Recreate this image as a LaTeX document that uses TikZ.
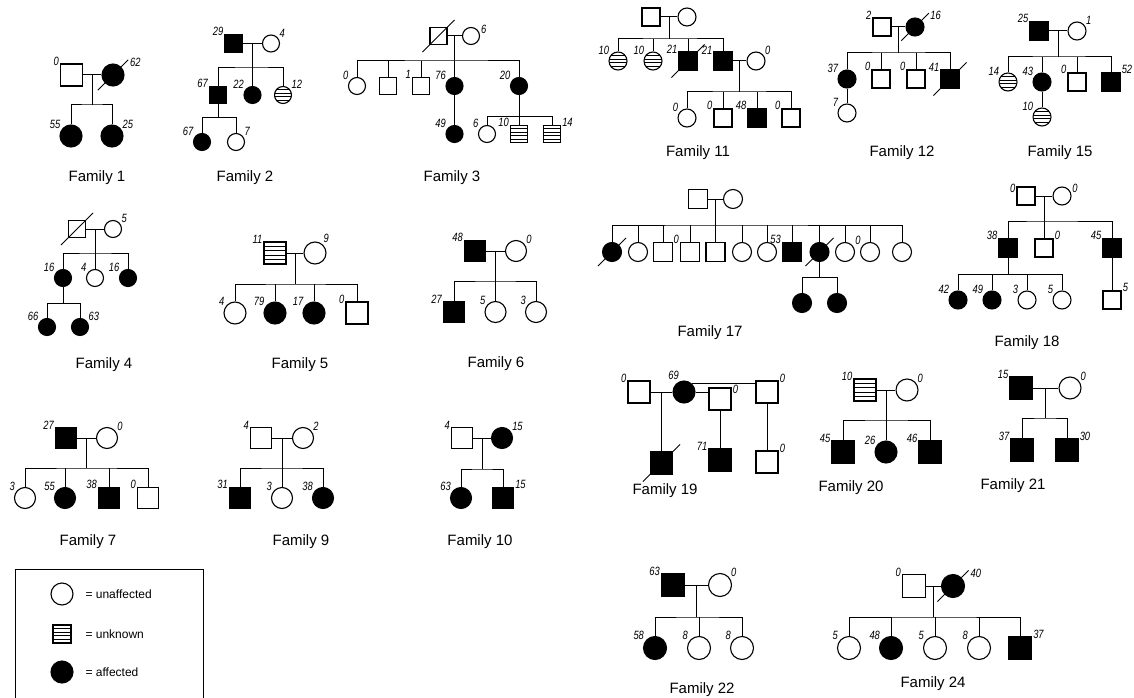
\documentclass[tikz,border=0pt]{standalone}
\usepackage{fontspec}
\setmainfont{Liberation Sans}
\newfontfamily\agefam[FakeStretch=0.78]{Liberation Sans}
\usetikzlibrary{calc}
\newcommand{\deceased}[1]{\draw[ln] ($(#1.south west)+(-7,7)$) -- ($(#1.north east)+(7,-7)$);}
\tikzset{
  ind/.style={draw, line width=1.1pt, inner sep=0pt, minimum size=20pt},
  m/.style={ind, rectangle},
  f/.style={ind, circle},
  aff/.style={fill=black},
  unk/.style={path picture={
    \foreach \k in {0.2,0.4,0.6,0.8}
      \draw[line width=0.9pt] ($(path picture bounding box.south west)!\k!(path picture bounding box.north west)$)
        -- ($(path picture bounding box.south east)!\k!(path picture bounding box.north east)$);
  }},
  age/.style={font=\agefam\itshape\fontsize{12}{12}\selectfont, inner sep=1pt},
  al/.style={label={[age]145:#1}},
  ar/.style={label={[age]35:#1}},
  ad/.style={label={[age, label distance=6pt]25:#1}},
  fam/.style={font=\fontsize{15}{16}\selectfont},
  ln/.style={line width=1pt},
}
\begin{document}
\begin{tikzpicture}[x=1pt, y=-1pt]
\useasboundingbox (0,0) rectangle (1134,698);

% Family 1
\begin{scope}[ind/.append style={minimum size=22pt}]
  \node[m, al=0] (f1a) at (71.5,75) {};
  \node[f, aff, ad=62] (f1b) at (113,75) {};
  \node[f, aff, al=55] (f1c) at (71,136) {};
  \node[f, aff, ar=25] (f1d) at (112,136) {};
\end{scope}
\deceased{f1b}
\draw[ln] (f1a) -- coordinate (f1u) (f1b);
\draw[ln] (f1u) -- ++(0,30) coordinate (f1s);
\draw[ln] (f1c.north) |- (f1s) -| (f1d.north);
\node[fam] (t1) at (97,178) {Family 1};

% Family 2
\begin{scope}[ind/.append style={minimum size=17pt}]
  \node[m, aff, al=29] (f2a) at (233.5,43.5) {};
  \node[f, ar=4] (f2b) at (271,43.5) {};
  \node[m, aff, al=67] (f2c) at (218,95) {};
  \node[f, aff, al=22] (f2d) at (252.5,95) {};
  \node[f, unk, ar=12] (f2e) at (283,95) {};
  \node[f, aff, al=67] (f2f) at (202,142) {};
  \node[f, ar=7] (f2g) at (236,142) {};
\end{scope}
\draw[ln] (f2a) -- coordinate (f2u) (f2b);
\draw[ln] (f2u) -- ++(0,24.5) coordinate (f2s);
\draw[ln] (f2c.north) |- (f2s) -| (f2e.north);
\draw[ln] (f2d.north) -- (f2d.north |- f2s);
\draw[ln] (f2c.south) -- ++(0,13.5) coordinate (f2t);
\draw[ln] (f2f.north) |- (f2t) -| (f2g.north);
\node[fam] (t2) at (245,178) {Family 2};

% Family 3
\begin{scope}[ind/.append style={minimum size=17pt}]
  \node[m] (f3a) at (438.5,36) {};
  \node[f, label={[age]5:6}] (f3b) at (471,36) {};
  \node[f, al=0] (f3c) at (357,86) {};
  \node[m] (f3d) at (388,86) {};
  \node[m, al=1] (f3e) at (421,86) {};
  \node[f, aff, al=76] (f3f) at (454.5,86) {};
  \node[f, aff, al=20] (f3g) at (519,86) {};
  \node[f, aff, al=49] (f3h) at (454.5,134) {};
  \node[f, al=6] (f3i) at (487,134) {};
  \node[m, unk, al=10] (f3j) at (519,134) {};
  \node[m, unk, ar=14] (f3k) at (552,134) {};
\end{scope}
\deceased{f3a}
\draw[ln] (f3a) -- coordinate (f3u) (f3b);
\draw[ln] (f3u) -- ++(0,25) coordinate (f3s);
\draw[ln] (f3c.north) |- (f3s) -| (f3g.north);
\foreach \n in {f3d,f3e,f3f} \draw[ln] (\n.north) -- (\n.north |- f3s);
\draw[ln] (f3f) -- (f3h);
\draw[ln] (f3g.south) -- ++(0,21.5) coordinate (f3t);
\draw[ln] (f3i.north) |- (f3t) -| (f3k.north);
\draw[ln] (f3j.north) -- (f3j.north |- f3t);
\node[fam] (t3) at (452,178) {Family 3};

% Family 11
\begin{scope}[ind/.append style={minimum size=18pt}]
  \node[m] (f11a) at (651,17) {};
  \node[f] (f11b) at (687,17) {};
  \node[f, unk, al=10] (f11c) at (618,61) {};
  \node[f, unk, al=10] (f11d) at (653,61) {};
  \node[m, aff, al=21] (f11e) at (688,61) {};
  \node[m, aff, label={[age]150:21}] (f11f) at (723,61) {};
  \node[f, ar=0] (f11g) at (756,61) {};
  \node[f, al=0] (f11h) at (687,118) {};
  \node[m, al=0] (f11i) at (723,118) {};
  \node[m, aff, al=48] (f11j) at (757,118) {};
  \node[m, al=0] (f11k) at (791,118) {};
\end{scope}
\deceased{f11e}
\draw[ln] (f11a) -- coordinate (f11u) (f11b);
\draw[ln] (f11u) -- ++(0,22) coordinate (f11s);
\draw[ln] (f11c.north) |- (f11s) -| (f11f.north);
\foreach \n in {f11d,f11e} \draw[ln] (\n.north) -- (\n.north |- f11s);
\draw[ln] (f11f) -- coordinate (f11v) (f11g);
\draw[ln] (f11v) -- ++(0,31) coordinate (f11t);
\draw[ln] (f11h.north) |- (f11t) -| (f11k.north);
\foreach \n in {f11i,f11j} \draw[ln] (\n.north) -- (\n.north |- f11t);
\node[fam] (t11) at (698,153) {Family 11};

% Family 12
\begin{scope}[ind/.append style={minimum size=18pt}]
  \node[m, al=2] (f12a) at (882,27) {};
  \node[f, aff, ad=16] (f12b) at (915,27) {};
  \node[f, aff, al=37] (f12c) at (847,79) {};
  \node[m, al=0] (f12d) at (881,79) {};
  \node[m, al=0] (f12e) at (916,79) {};
  \node[m, aff, al=41] (f12f) at (950,79) {};
  \node[f, al=7] (f12g) at (847,113) {};
\end{scope}
\deceased{f12b}
\deceased{f12f}
\draw[ln] (f12a) -- coordinate (f12u) (f12b);
\draw[ln] (f12u) -- ++(0,26) coordinate (f12s);
\draw[ln] (f12c.north) |- (f12s) -| (f12f.north);
\foreach \n in {f12d,f12e} \draw[ln] (\n.north) -- (\n.north |- f12s);
\draw[ln] (f12c) -- (f12g);
\node[fam] (t12) at (902,153) {Family 12};

% Family 15
\begin{scope}[ind/.append style={minimum size=18pt}]
  \node[m, aff, al=25] (f15a) at (1039,31) {};
  \node[f, ar=1] (f15b) at (1077,31) {};
  \node[f, unk, al=14] (f15c) at (1008,82) {};
  \node[f, aff, al=43] (f15d) at (1042,82) {};
  \node[m, al=0] (f15e) at (1077,82) {};
  \node[m, aff, ar=52] (f15f) at (1111,82) {};
  \node[f, unk, al=10] (f15g) at (1042,117) {};
\end{scope}
\draw[ln] (f15a) -- coordinate (f15u) (f15b);
\draw[ln] (f15u) -- ++(0,26) coordinate (f15s);
\draw[ln] (f15c.north) |- (f15s) -| (f15f.north);
\foreach \n in {f15d,f15e} \draw[ln] (\n.north) -- (\n.north |- f15s);
\draw[ln] (f15d) -- (f15g);
\node[fam] (t15) at (1060,153) {Family 15};

% Family 4
\begin{scope}[ind/.append style={minimum size=17pt}]
  \node[m] (f4a) at (77,229) {};
  \node[f, ar=5] (f4b) at (113,229) {};
  \node[f, aff, al=16] (f4c) at (63,278) {};
  \node[f, al=4] (f4d) at (95,278) {};
  \node[f, aff, al=16] (f4e) at (128,278) {};
  \node[f, aff, al=66] (f4f) at (47,327) {};
  \node[f, aff, ar=63] (f4g) at (80,327) {};
\end{scope}
\deceased{f4a}
\draw[ln] (f4a) -- coordinate (f4u) (f4b);
\draw[ln] (f4u) -- ++(0,24) coordinate (f4s);
\draw[ln] (f4c.north) |- (f4s) -| (f4e.north);
\draw[ln] (f4d.north) -- (f4d.north |- f4s);
\draw[ln] (f4c.south) -- ++(0,16.5) coordinate (f4t);
\draw[ln] (f4f.north) |- (f4t) -| (f4g.north);
\node[fam] (t4) at (104,365) {Family 4};

% Family 5
\begin{scope}[ind/.append style={minimum size=22pt}]
  \node[m, unk, al=11] (f5a) at (275,253) {};
  \node[f, label={[age]50:9}] (f5b) at (315,253) {};
  \node[f, al=4] (f5c) at (235,313) {};
  \node[f, aff, al=79] (f5d) at (275,313) {};
  \node[f, aff, al=17] (f5e) at (314,313) {};
  \node[m, al=0] (f5f) at (357,313) {};
\end{scope}
\draw[ln] (f5a) -- coordinate (f5u) (f5b);
\draw[ln] (f5u) -- ++(0,31) coordinate (f5s);
\draw[ln] (f5c.north) |- (f5s) -| (f5f.north);
\foreach \n in {f5d,f5e} \draw[ln] (\n.north) -- (\n.north |- f5s);
\node[fam] (t5) at (300,365) {Family 5};

% Family 6
\begin{scope}[ind/.append style={minimum size=21pt}]
  \node[m, aff, al=48] (f6a) at (475,251) {};
  \node[f, ar=0] (f6b) at (516,251) {};
  \node[m, aff, al=27] (f6c) at (454,312) {};
  \node[f, al=5] (f6d) at (495.5,312) {};
  \node[f, al=3] (f6e) at (536,312) {};
\end{scope}
\draw[ln] (f6a) -- coordinate (f6u) (f6b);
\draw[ln] (f6u) -- ++(0,30) coordinate (f6s);
\draw[ln] (f6c.north) |- (f6s) -| (f6e.north);
\draw[ln] (f6d.north) -- (f6d.north |- f6s);
\node[fam] (t6) at (496,364) {Family 6};

% Family 17
\begin{scope}[ind/.append style={minimum size=19pt}]
  \node[m] (f17a) at (698,199) {};
  \node[f] (f17b) at (733,199) {};
  \node[f, aff] (f17c) at (612,252) {};
  \node[f] (f17d) at (638,252) {};
  \node[m] (f17e) at (663,252) {};
  \node[m, al=0] (f17f) at (690,252) {};
  \node[m] (f17g) at (715.5,252) {};
  \node[f] (f17h) at (742,252) {};
  \node[f] (f17i) at (767,252) {};
  \node[m, aff, al=53] (f17j) at (792,252) {};
  \node[f, aff] (f17k) at (819.5,252) {};
  \node[f] (f17l) at (845,252) {};
  \node[f, al=0] (f17m) at (870,252) {};
  \node[f] (f17n) at (902,252) {};
  \node[f, aff] (f17o) at (802,303) {};
  \node[f, aff] (f17p) at (837,303) {};
\end{scope}
\deceased{f17c}
\deceased{f17k}
\draw[ln] (f17a) -- coordinate (f17u) (f17b);
\draw[ln] (f17u) -- ++(0,26) coordinate (f17s);
\draw[ln] (f17c.north) |- (f17s) -| (f17n.north);
\foreach \n in {d,e,f,g,h,i,j,k,l,m} \draw[ln] (f17\n.north) -- (f17\n.north |- f17s);
\draw[ln] (f17k.south) -- ++(0,15.5) coordinate (f17t);
\draw[ln] (f17o.north) |- (f17t) -| (f17p.north);
\node[fam] (t17) at (710,333) {Family 17};

% Family 18
\begin{scope}[ind/.append style={minimum size=18pt}]
  \node[m, label={[age]165:0}] (f18a) at (1026,196) {};
  \node[f, label={[age]15:0}] (f18b) at (1062,196) {};
  \node[m, aff, al=38] (f18c) at (1008,248) {};
  \node[m, ar=0] (f18d) at (1044,248) {};
  \node[m, aff, al=45] (f18e) at (1112,248) {};
  \node[f, aff, al=42] (f18f) at (958,300) {};
  \node[f, aff, al=49] (f18g) at (992,300) {};
  \node[f, al=3] (f18h) at (1027,300) {};
  \node[f, al=5] (f18i) at (1062,300) {};
  \node[m, ar=5] (f18j) at (1112,300) {};
\end{scope}
\draw[ln] (f18a) -- coordinate (f18u) (f18b);
\draw[ln] (f18u) -- ++(0,25) coordinate (f18s);
\draw[ln] (f18c.north) |- (f18s) -| (f18e.north);
\draw[ln] (f18d.north) -- (f18d.north |- f18s);
\draw[ln] (f18c.south) -- ++(0,17) coordinate (f18t);
\draw[ln] (f18f.north) |- (f18t) -| (f18i.north);
\foreach \n in {f18g,f18h} \draw[ln] (\n.north) -- (\n.north |- f18t);
\draw[ln] (f18e) -- (f18j);
\node[fam] (t18) at (1027,343) {Family 18};

% Family 7
\begin{scope}[ind/.append style={minimum size=21pt}]
  \node[m, aff, al=27] (f7a) at (66,438) {};
  \node[f, ar=0] (f7b) at (107,438) {};
  \node[f, al=3] (f7c) at (25,498) {};
  \node[f, aff, al=55] (f7d) at (65,498) {};
  \node[m, aff, al=38] (f7e) at (109,498) {};
  \node[m, al=0] (f7f) at (148,498) {};
\end{scope}
\draw[ln] (f7a) -- coordinate (f7u) (f7b);
\draw[ln] (f7u) -- ++(0,30) coordinate (f7s);
\draw[ln] (f7c.north) |- (f7s) -| (f7f.north);
\foreach \n in {f7d,f7e} \draw[ln] (\n.north) -- (\n.north |- f7s);
\node[fam] (t7) at (88,542) {Family 7};

% Family 9
\begin{scope}[ind/.append style={minimum size=21pt}]
  \node[m, al=4] (f9a) at (261,438) {};
  \node[f, ar=2] (f9b) at (303,438) {};
  \node[m, aff, al=31] (f9c) at (240,498) {};
  \node[f, al=3] (f9d) at (282,498) {};
  \node[f, aff, al=38] (f9e) at (323,498) {};
\end{scope}
\draw[ln] (f9a) -- coordinate (f9u) (f9b);
\draw[ln] (f9u) -- ++(0,30) coordinate (f9s);
\draw[ln] (f9c.north) |- (f9s) -| (f9e.north);
\draw[ln] (f9d.north) -- (f9d.north |- f9s);
\node[fam] (t9) at (301,542) {Family 9};

% Family 10
\begin{scope}[ind/.append style={minimum size=21pt}]
  \node[m, al=4] (f10a) at (462,438) {};
  \node[f, aff, ar=15] (f10b) at (502,438) {};
  \node[f, aff, al=63] (f10c) at (461,498) {};
  \node[m, aff, ar=15] (f10d) at (503,498) {};
\end{scope}
\draw[ln] (f10a) -- coordinate (f10u) (f10b);
\draw[ln] (f10u) -- ++(0,31) coordinate (f10s);
\draw[ln] (f10c.north) |- (f10s) -| (f10d.north);
\node[fam] (t10) at (480,542) {Family 10};

% Family 19
\begin{scope}[ind/.append style={minimum size=22pt}]
  \node[m, al=0] (f19a) at (639,392) {};
  \node[f, aff, label={[age]110:69}] (f19b) at (684,392) {};
  \node[m, label={[age]20:0}] (f19c) at (720,399) {};
  \node[m, ar=0] (f19d) at (767,392) {};
  \node[m, aff] (f19e) at (661.5,463) {};
  \node[m, aff, al=71] (f19f) at (720,460) {};
  \node[m, ar=0] (f19g) at (767,462) {};
\end{scope}
\deceased{f19e}
\draw[ln] (f19a) -- coordinate (f19u) (f19b);
\draw[ln] (f19b.east) -- (f19b.east -| f19c.west);
\draw[ln] (f19b.45) -- (f19b.45 -| f19d.west);
\draw[ln] (f19u) -- (f19e);
\draw[ln] (f19c) -- (f19f);
\draw[ln] (f19d) -- (f19g);
\node[fam] (t19) at (665,491) {Family 19};

% Family 20
\begin{scope}[ind/.append style={minimum size=22pt}]
  \node[m, unk, al=10] (f20a) at (865,390) {};
  \node[f, ar=0] (f20b) at (907,390) {};
  \node[m, aff, al=45] (f20c) at (843,452) {};
  \node[f, aff, al=26] (f20d) at (886,452) {};
  \node[m, aff, al=46] (f20e) at (930,452) {};
\end{scope}
\draw[ln] (f20a) -- coordinate (f20u) (f20b);
\draw[ln] (f20u) -- ++(0,30) coordinate (f20s);
\draw[ln] (f20c.north) |- (f20s) -| (f20e.north);
\draw[ln] (f20d.north) -- (f20d.north |- f20s);
\node[fam] (t20) at (851,488) {Family 20};

% Family 21
\begin{scope}[ind/.append style={minimum size=22pt}]
  \node[m, aff, al=15] (f21a) at (1021,388) {};
  \node[f, ar=0] (f21b) at (1070,388) {};
  \node[m, aff, al=37] (f21c) at (1022,450) {};
  \node[m, aff, ar=30] (f21d) at (1067,450) {};
\end{scope}
\draw[ln] (f21a) -- coordinate (f21u) (f21b);
\draw[ln] (f21u) -- ++(0,30) coordinate (f21s);
\draw[ln] (f21c.north) |- (f21s) -| (f21d.north);
\node[fam] (t21) at (1013,486) {Family 21};

% Family 22
\begin{scope}[ind/.append style={minimum size=23pt}]
  \node[m, aff, al=63] (f22a) at (673,585) {};
  \node[f, ar=0] (f22b) at (720,585) {};
  \node[f, aff, al=58] (f22c) at (655,648) {};
  \node[f, al=8] (f22d) at (699,648) {};
  \node[f, al=8] (f22e) at (742,648) {};
\end{scope}
\draw[ln] (f22a) -- coordinate (f22u) (f22b);
\draw[ln] (f22u) -- ++(0,32) coordinate (f22s);
\draw[ln] (f22c.north) |- (f22s) -| (f22e.north);
\draw[ln] (f22d.north) -- (f22d.north |- f22s);
\node[fam] (t22) at (702,690) {Family 22};

% Family 24
\begin{scope}[ind/.append style={minimum size=23pt}]
  \node[m, al=0] (f24a) at (914,586) {};
  \node[f, aff, ad=40] (f24b) at (953,586) {};
  \node[f, al=5] (f24c) at (849,648) {};
  \node[f, aff, al=48] (f24d) at (891,648) {};
  \node[f, al=5] (f24e) at (935,648) {};
  \node[f, al=8] (f24f) at (979,648) {};
  \node[m, aff, ar=37] (f24g) at (1020,648) {};
\end{scope}
\deceased{f24b}
\draw[ln] (f24a) -- coordinate (f24u) (f24b);
\draw[ln] (f24u) -- ++(0,31) coordinate (f24s);
\draw[ln] (f24c.north) |- (f24s) -| (f24g.north);
\foreach \n in {f24d,f24e,f24f} \draw[ln] (\n.north) -- (\n.north |- f24s);
\node[fam] (t24) at (933,684) {Family 24};

% legend
\draw[ln] (15,698) -- (15,569) -- (203,569) -- (203,698);
\node[f, minimum size=22pt] (lg1) at (62,594) {};
\node[anchor=west, font=\fontsize{12}{14}\selectfont] (lt1) at (82,594) {= unaffected};
\node[m, unk, minimum size=18pt] (lg2) at (62,634) {};
\node[anchor=west, font=\fontsize{12}{14}\selectfont] (lt2) at (82,634) {= unknown};
\node[f, aff, minimum size=22pt] (lg3) at (62,672) {};
\node[anchor=west, font=\fontsize{12}{14}\selectfont] (lt3) at (82,672) {= affected};
\end{tikzpicture}
\end{document}
